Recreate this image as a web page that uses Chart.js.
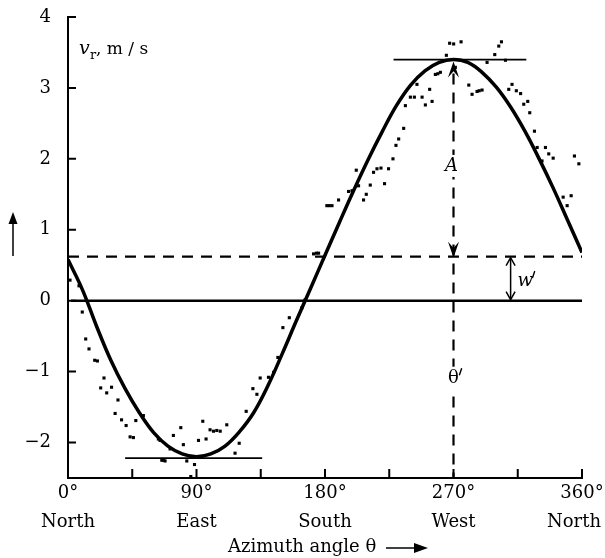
<!DOCTYPE html>
<html>
<head>
<meta charset="utf-8">
<script src="https://cdn.jsdelivr.net/npm/chart.js@4.4.1/dist/chart.umd.min.js"></script>
<style>
  html, body { margin: 0; padding: 0; background: #fff; }
  canvas { display: block; }
</style>
</head>
<body>
<canvas id="c" width="605" height="558"></canvas>
<script>
// Radial wind speed v_r versus azimuth angle (VAD-style scan)

// Fitted sinusoid, sampled every 10 degrees
const fitAzimuth = [0,10,20,30,40,50,60,70,80,90,100,110,120,130,140,150,160,170,180,
                    190,200,210,220,230,240,250,260,270,280,290,300,310,320,330,340,350,360];
const fitSpeed = [0.58,0.16,-0.36,-0.84,-1.24,-1.58,-1.86,-2.05,-2.16,-2.20,-2.16,-2.05,-1.85,-1.58,-1.20,-0.75,-0.28,0.18,0.64,
                  1.10,1.55,1.98,2.38,2.75,3.04,3.24,3.36,3.40,3.36,3.22,3.01,2.73,2.39,2.00,1.58,1.13,0.68];

// Measured radial speeds
const obsAzimuth = [1.4,7.7,10,12.4,14.7,18.7,20.6,22.9,25.2,27.1,30.5,33,35,37.5,40.7,43.5,45.8,47.5,52.8,
  63.3,64.5,65.7,67,68,71.5,73.8,79,80.8,83.2,86,88.6,91.4,94.4,96.7,99.5,101.9,104.2,106.6,111.2,
  117,119.9,124.8,129.5,132.3,134.6,140.4,144,147,150.5,155,163.8,166,172,174,175.5,181.3,183,184.9,
  189.5,196.5,198.9,201.9,203.5,207,208.9,211.7,214,216.4,219.2,221.7,224.5,227.6,229.7,231.6,235.1,
  236.3,239.8,242.6,244.4,248,250.3,253.3,255,257.3,259,260.8,265,267.3,270.1,271.3,275.3,280.7,283,
  286.5,288,290,293.5,298.9,301.7,303.6,306.4,308.7,311,314,317,319.2,322,323.4,326.7,328.6,332,
  334.4,336.7,339.8,346.8,349.6,352.4,354.7,357.8];
const obsSpeed = [0.29,0.21,-0.16,-0.54,-0.68,-0.84,-0.85,-1.23,-1.09,-1.30,-1.22,-1.59,-1.40,-1.68,-1.76,-1.92,-1.93,-1.69,-1.62,
  -1.95,-1.97,-2.25,-2.25,-2.26,-2.09,-1.90,-1.79,-2.03,-2.26,-2.48,-2.31,-1.97,-1.70,-1.95,-1.82,-1.84,-1.83,-1.84,-1.75,
  -2.15,-2.01,-1.56,-1.24,-1.32,-1.09,-1.08,-1.01,-0.80,-0.38,-0.24,-0.10,0.01,0.66,0.67,0.67,1.34,1.34,1.34,
  1.42,1.54,1.55,1.84,1.62,1.42,1.50,1.63,1.81,1.86,1.87,1.65,1.86,2.00,2.19,2.28,2.43,
  2.75,2.87,2.87,3.05,2.87,2.76,2.98,2.81,3.19,3.20,3.22,3.46,3.63,3.62,3.29,3.65,3.04,2.91,
  2.95,2.96,2.97,3.36,3.47,3.59,3.65,3.39,2.98,3.05,2.96,2.92,2.77,2.81,2.65,2.39,2.16,1.97,
  2.16,2.07,2.01,1.46,1.34,1.48,2.04,1.93];

// Axis ticks and labels
const xTicks = [0,45,90,135,180,225,270,315,360];
const xLabelTicks = [0,90,180,270,360];
const compassNames = ['North','East','South','West','North'];
const yTicks = [-2,-1,0,1,2,3,4];

// Fit parameters marked on the plot
const meanLevel = 0.62;      // w'
const peakLevel = 3.40;      // w' + A
const troughLevel = -2.22;
const peakAzimuth = 270;     // θ'
const peakBar = [228, 321];
const troughBar = [40, 136];
const offsetArrowAzimuth = 310;

const FONT = '"DejaVu Serif", "Liberation Serif", serif';

function arrowHead(ctx, x, y, dir, len, half) {
  // dir: +1 tip pointing down, -1 tip pointing up (barbed head)
  ctx.beginPath();
  ctx.moveTo(x, y);
  ctx.lineTo(x - half, y - dir * len);
  ctx.lineTo(x, y - dir * len * 0.6);
  ctx.lineTo(x + half, y - dir * len);
  ctx.closePath();
  ctx.fill();
}

function primeMark(ctx, x, y) {
  // small slanted prime stroke
  ctx.save();
  ctx.lineWidth = 1.4;
  ctx.lineCap = 'round';
  ctx.beginPath(); ctx.moveTo(x + 2, y - 7); ctx.lineTo(x, y - 1); ctx.stroke();
  ctx.restore();
}

const overlay = {
  id: 'overlay',
  beforeDatasetsDraw(chart) {
    const { ctx, scales: { x, y } } = chart;
    const X = v => x.getPixelForValue(v), Y = v => y.getPixelForValue(v);
    ctx.save();
    ctx.strokeStyle = '#000';
    ctx.fillStyle = '#000';
    ctx.lineCap = 'butt';

    // zero line
    ctx.lineWidth = 2.5;
    ctx.beginPath(); ctx.moveTo(X(0) + 3, Y(0)); ctx.lineTo(X(360), Y(0)); ctx.stroke();

    // mean level w'
    ctx.lineWidth = 2.2;
    ctx.setLineDash([11, 8]);
    ctx.beginPath(); ctx.moveTo(X(0), Y(meanLevel)); ctx.lineTo(X(360), Y(meanLevel)); ctx.stroke();

    // vertical at θ'
    ctx.beginPath(); ctx.moveTo(X(peakAzimuth), Y(peakLevel) + 14); ctx.lineTo(X(peakAzimuth), y.bottom); ctx.stroke();
    ctx.setLineDash([]);

    // peak and trough bars
    ctx.lineWidth = 1.8;
    ctx.beginPath(); ctx.moveTo(X(peakBar[0]), Y(peakLevel)); ctx.lineTo(X(peakBar[1]), Y(peakLevel)); ctx.stroke();
    ctx.beginPath(); ctx.moveTo(X(troughBar[0]), Y(troughLevel)); ctx.lineTo(X(troughBar[1]), Y(troughLevel)); ctx.stroke();

    // amplitude arrow heads
    arrowHead(ctx, X(peakAzimuth), Y(peakLevel) + 2, -1, 16, 5.5);
    arrowHead(ctx, X(peakAzimuth), Y(meanLevel) + 1, 1, 16, 5.5);

    // w' double arrow
    ctx.lineWidth = 1.5;
    const xa = X(offsetArrowAzimuth);
    ctx.beginPath(); ctx.moveTo(xa, Y(meanLevel) + 2); ctx.lineTo(xa, Y(0) - 2); ctx.stroke();
    ctx.beginPath();
    ctx.moveTo(xa - 4.5, Y(meanLevel) + 9); ctx.lineTo(xa, Y(meanLevel) + 1); ctx.lineTo(xa + 4.5, Y(meanLevel) + 9);
    ctx.moveTo(xa - 4.5, Y(0) - 9); ctx.lineTo(xa, Y(0) - 1); ctx.lineTo(xa + 4.5, Y(0) - 9);
    ctx.stroke();

    // labels A, θ′, w′
    ctx.textBaseline = 'middle';
    ctx.textAlign = 'center';
    ctx.fillStyle = '#fff';
    ctx.fillRect(X(peakAzimuth) - 9, Y(1.9) - 11, 18, 22);
    ctx.fillRect(X(peakAzimuth) - 9, Y(-1.1) - 12, 20, 24);
    ctx.fillStyle = '#000';
    ctx.font = 'italic 18px ' + FONT;
    ctx.fillText('A', X(peakAzimuth) - 2, Y(1.9));
    ctx.font = '18px ' + FONT;
    ctx.fillText('θ', X(peakAzimuth), Y(-1.1));
    primeMark(ctx, X(peakAzimuth) + 6, Y(-1.1) - 3);
    ctx.textAlign = 'left';
    ctx.font = 'italic 18px ' + FONT;
    ctx.fillText('w', xa + 7, Y(0.27));
    primeMark(ctx, xa + 22, Y(0.27) - 3);

    // quantity label inside the plot
    ctx.textBaseline = 'alphabetic';
    ctx.font = 'italic 19px ' + FONT;
    ctx.fillText('v', 79, 54);
    ctx.font = '13px ' + FONT;
    ctx.fillText('r', 90, 59);
    ctx.font = '17px ' + FONT;
    ctx.fillText(', m / s', 96, 54);

    ctx.restore();
  },
  afterDraw(chart) {
    const { ctx, scales: { x, y } } = chart;
    ctx.save();
    ctx.strokeStyle = '#000';
    ctx.fillStyle = '#000';
    ctx.lineWidth = 2;
    // inward tick marks
    ctx.beginPath();
    xTicks.forEach(v => { const px = x.getPixelForValue(v); ctx.moveTo(px, y.bottom); ctx.lineTo(px, y.bottom - 9); });
    yTicks.forEach(v => { const py = y.getPixelForValue(v); ctx.moveTo(x.left, py); ctx.lineTo(x.left + 8, py); });
    ctx.stroke();

    // compass direction under each labelled tick, kept inside the canvas
    ctx.font = '18px ' + FONT;
    ctx.textBaseline = 'middle';
    ctx.textAlign = 'center';
    xLabelTicks.forEach((v, k) => {
      const w = ctx.measureText(compassNames[k]).width;
      let cx = x.getPixelForValue(v);
      cx = Math.max(cx, 33 + w / 2);
      cx = Math.min(cx, chart.width - 4 - w / 2);
      ctx.fillText(compassNames[k], cx, 522);
    });

    // y title: upward arrow
    ctx.lineWidth = 1.5;
    ctx.beginPath(); ctx.moveTo(13, 256); ctx.lineTo(13, 220); ctx.stroke();
    ctx.beginPath(); ctx.moveTo(13, 212); ctx.lineTo(8.5, 224); ctx.lineTo(17.5, 224); ctx.closePath(); ctx.fill();

    // x title with arrow
    ctx.textAlign = 'left';
    ctx.fillText('Azimuth angle θ', 228, 547);
    ctx.beginPath(); ctx.moveTo(386, 548); ctx.lineTo(418, 548); ctx.stroke();
    ctx.beginPath(); ctx.moveTo(428, 548); ctx.lineTo(414, 543); ctx.lineTo(414, 553); ctx.closePath(); ctx.fill();
    ctx.restore();
  }
};

new Chart(document.getElementById('c'), {
  type: 'scatter',
  data: {
    datasets: [
      {
        type: 'line',
        data: fitAzimuth.map((a, i) => ({ x: a, y: fitSpeed[i] })),
        borderColor: '#000',
        borderWidth: 3.5,
        pointRadius: 0,
        tension: 0.4,
        fill: false,
        order: 1
      },
      {
        data: obsAzimuth.map((a, i) => ({ x: a, y: obsSpeed[i] })),
        pointStyle: 'rect',
        pointRadius: 2.2,
        backgroundColor: '#000',
        borderWidth: 0,
        order: 2
      }
    ]
  },
  options: {
    responsive: false,
    animation: false,
    events: [],
    layout: { padding: { left: 0, right: 23, top: 17, bottom: 0 } },
    plugins: { legend: { display: false }, tooltip: { enabled: false } },
    scales: {
      x: {
        type: 'linear', min: 0, max: 360,
        afterBuildTicks: s => { s.ticks = xTicks.map(v => ({ value: v })); },
        afterFit: s => { s.height = 80; s.paddingLeft = 0; s.paddingRight = 0; },
        grid: { display: true, drawOnChartArea: false, drawTicks: false },
        border: { display: true, color: '#000', width: 2 },
        ticks: {
          color: '#000', padding: 5, maxRotation: 0, autoSkip: false,
          font: { family: FONT, size: 18 },
          callback: v => (xLabelTicks.includes(v) ? v + '°' : '')
        }
      },
      y: {
        type: 'linear', min: -2.5, max: 4,
        afterBuildTicks: s => { s.ticks = yTicks.map(v => ({ value: v })); },
        afterFit: s => { s.width = 68; s.paddingTop = 0; s.paddingBottom = 0; },
        grid: { display: true, drawOnChartArea: false, drawTicks: false },
        border: { display: true, color: '#000', width: 2 },
        ticks: {
          color: '#000', padding: 17,
          font: { family: FONT, size: 18 },
          callback: v => (v < 0 ? '−' + Math.abs(v) : String(v))
        }
      }
    }
  },
  plugins: [overlay]
});
</script>
</body>
</html>
